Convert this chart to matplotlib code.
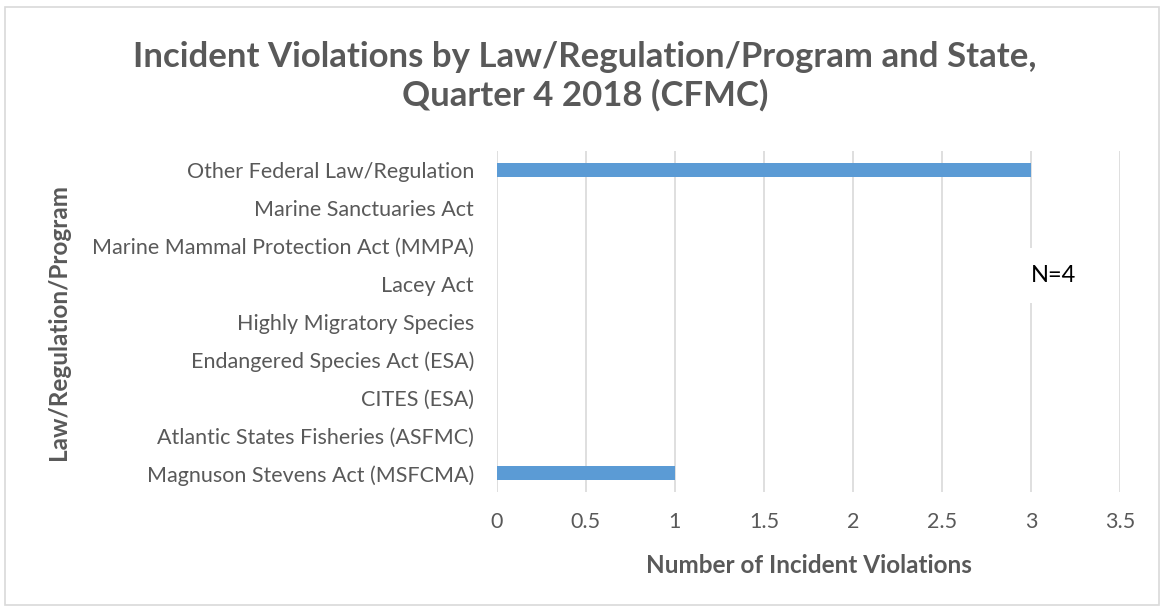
import matplotlib.pyplot as plt
from matplotlib.patches import Rectangle

plt.rcParams['font.family'] = ['Lato', 'DejaVu Sans']

categories = [
    'Magnuson Stevens Act (MSFCMA)',
    'Atlantic States Fisheries (ASFMC)',
    'CITES (ESA)',
    'Endangered Species Act (ESA)',
    'Highly Migratory Species',
    'Lacey Act',
    'Marine Mammal Protection Act (MMPA)',
    'Marine Sanctuaries Act',
    'Other Federal Law/Regulation',
]
violations = [1, 0, 0, 0, 0, 0, 0, 0, 3]
x_ticks = [0, 0.5, 1, 1.5, 2, 2.5, 3, 3.5]
x_tick_labels = ['0', '0.5', '1', '1.5', '2', '2.5', '3', '3.5']

text_color = '#595959'
grid_color = '#D9D9D9'
bar_color = '#5B9BD5'

fig = plt.figure(figsize=(11.61, 6.07), dpi=100)
fig.patches.append(Rectangle((0.004, 0.003), 0.994, 0.985, transform=fig.transFigure,
                             fill=False, edgecolor=grid_color, linewidth=1.2))

ax = fig.add_axes([0.428, 0.189, 0.5367, 0.562])
ax.barh(range(len(categories)), violations, height=0.37, color=bar_color, zorder=3)

ax.set_xlim(0, 3.5)
ax.set_ylim(-0.5, len(categories) - 0.5)
ax.set_xticks(x_ticks)
ax.set_xticklabels(x_tick_labels)
ax.set_yticks(range(len(categories)))
ax.set_yticklabels(categories)
ax.tick_params(axis='both', length=0, labelsize=15.5, labelcolor=text_color)
ax.tick_params(axis='x', pad=14)
ax.tick_params(axis='y', pad=16.5)
ax.grid(axis='x', color=grid_color, linewidth=1.2, zorder=0)
for s in ax.spines.values():
    s.set_visible(False)

ax.set_xlabel('Number of Incident Violations', fontsize=17.5, fontweight='bold',
              color=text_color, labelpad=16)
ax.set_ylabel('Law/Regulation/Program', fontsize=17.5, fontweight='bold',
              color=text_color)
ax.yaxis.set_label_coords(-0.685, 0.5)

ax.text(3.0, 5.22, 'N=4', fontsize=17, color='black', va='center', ha='left',
        family=['Lato'], zorder=4,
        bbox=dict(facecolor='white', edgecolor='none', pad=12))

fig.text(0.504, 0.874, 'Incident Violations by Law/Regulation/Program and State,\nQuarter 4 2018 (CFMC)',
         ha='center', va='center', fontsize=25, fontweight='bold', color=text_color,
         linespacing=1.24)

fig.savefig('out.png', dpi=100)
